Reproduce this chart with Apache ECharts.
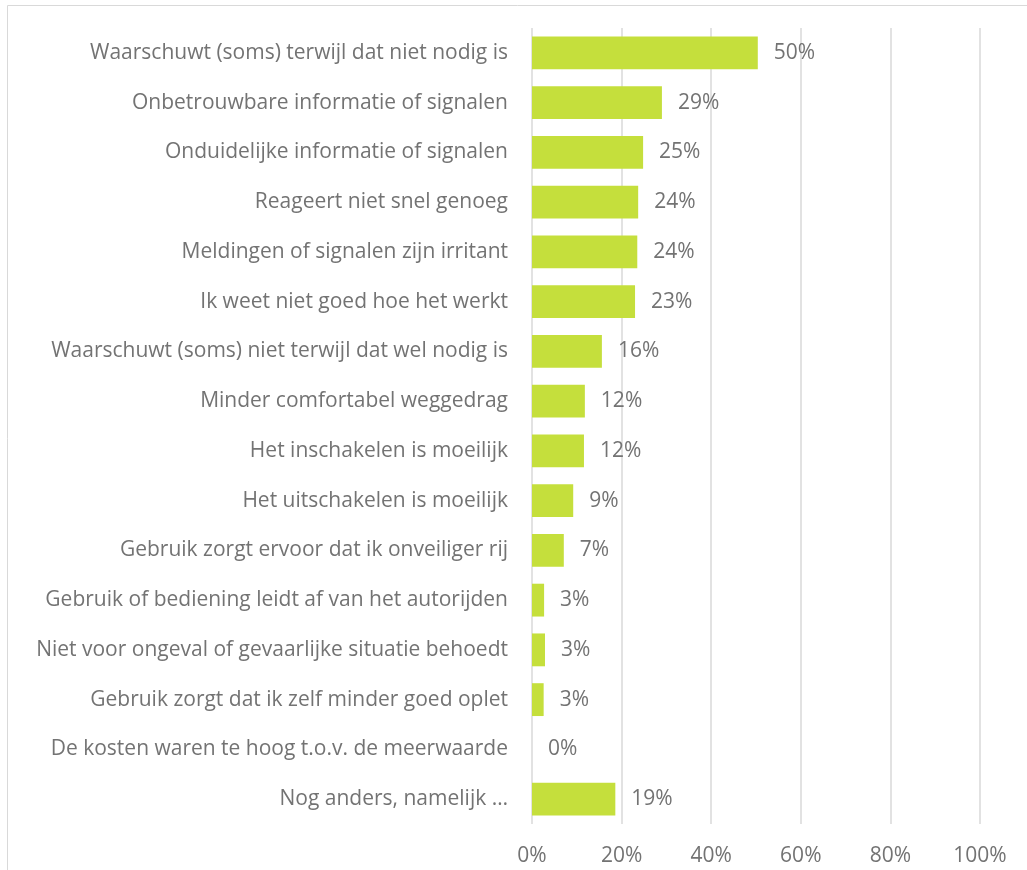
<!DOCTYPE html>
<html>
<head>
<meta charset="utf-8">
<script src="https://cdn.jsdelivr.net/npm/echarts@6/dist/echarts.min.js"></script>
<style>
  html, body { margin: 0; padding: 0; background: #fff; }
  #chart { width: 1027px; height: 870px; }
</style>
</head>
<body>
<div id="chart"></div>
<script>
var categories = [
  'Waarschuwt (soms) terwijl dat niet nodig is',
  'Onbetrouwbare informatie of signalen',
  'Onduidelijke informatie of signalen',
  'Reageert niet snel genoeg',
  'Meldingen of signalen zijn irritant',
  'Ik weet niet goed hoe het werkt',
  'Waarschuwt (soms) niet terwijl dat wel nodig is',
  'Minder comfortabel weggedrag',
  'Het inschakelen is moeilijk',
  'Het uitschakelen is moeilijk',
  'Gebruik zorgt ervoor dat ik onveiliger rij',
  'Gebruik of bediening leidt af van het autorijden',
  'Niet voor ongeval of gevaarlijke situatie behoedt',
  'Gebruik zorgt dat ik zelf minder goed oplet',
  'De kosten waren te hoog t.o.v. de meerwaarde',
  'Nog anders, namelijk …'
];
var shares = [50.4, 29.0, 24.8, 23.7, 23.5, 23.0, 15.6, 11.8, 11.6, 9.2, 7.1, 2.7, 2.9, 2.6, 0, 18.6];
var xTicks = [0, 20, 40, 60, 80, 100];

var chart = echarts.init(document.getElementById('chart'));
var font = '"Open Sans", sans-serif';
var grey = '#737373';
chart.setOption({
  animation: false,
  graphic: [{
    type: 'rect',
    shape: { x: 7.5, y: 5.5, width: 1040, height: 900 },
    style: { fill: 'none', stroke: '#d9d9d9', lineWidth: 1 }
  }],
  grid: { left: 532, right: 47, top: 28, bottom: 46 },
  xAxis: {
    type: 'value',
    min: 0,
    max: 100,
    interval: 20,
    axisLine: { show: false },
    axisTick: { show: false },
    splitLine: { lineStyle: { color: '#d9d9d9', width: 1.5 } },
    axisLabel: {
      color: grey, fontSize: 21, fontFamily: font, margin: 22,
      formatter: function (v) { return xTicks.indexOf(v) >= 0 ? v + '%' : ''; }
    }
  },
  yAxis: {
    type: 'category',
    data: categories,
    inverse: true,
    axisLine: { show: false },
    axisTick: { show: false },
    axisLabel: { color: grey, fontSize: 21, fontFamily: font, margin: 24, padding: [5, 0, 0, 0] }
  },
  series: [{
    type: 'bar',
    data: shares,
    barWidth: '66%',
    itemStyle: { color: '#c5df3c' },
    label: {
      show: true,
      position: 'right',
      distance: 16,
      padding: [5, 0, 0, 0],
      color: grey,
      fontSize: 21,
      fontFamily: font,
      formatter: function (p) { return Math.round(p.value) + '%'; }
    }
  }]
});
</script>
</body>
</html>
